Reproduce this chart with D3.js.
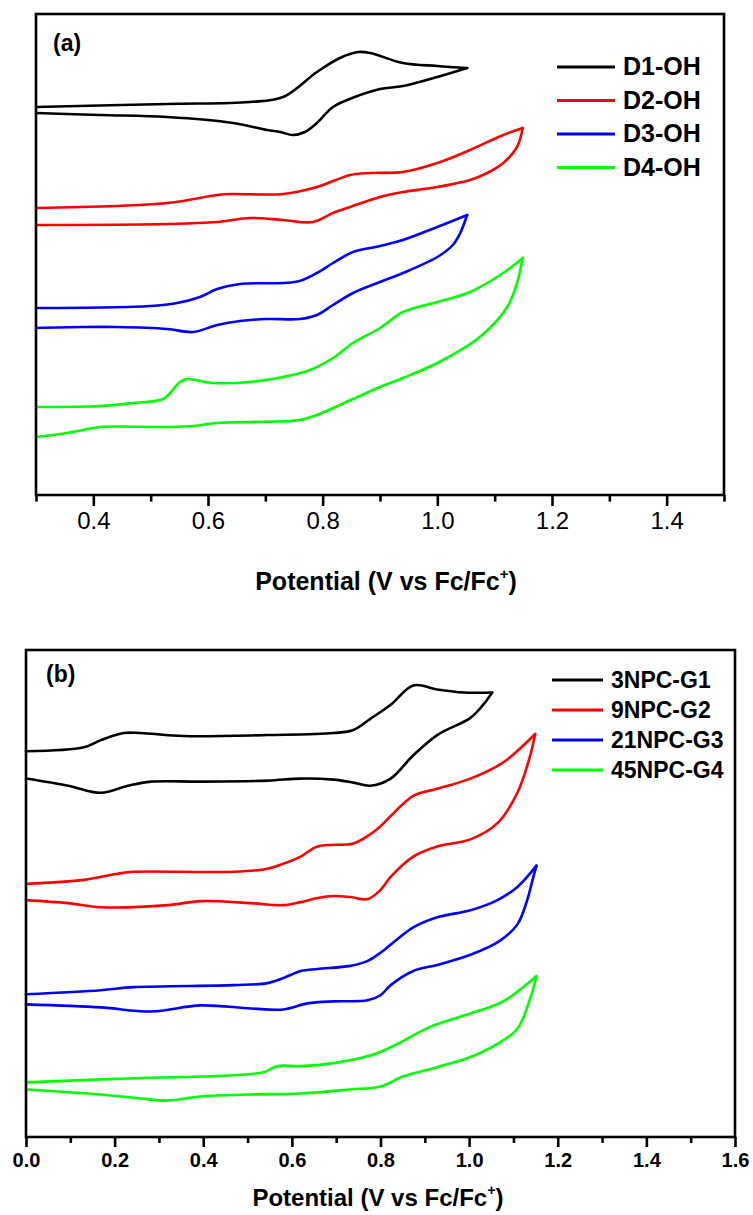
<!DOCTYPE html>
<html>
<head>
<meta charset="utf-8">
<script src="https://d3js.org/d3.v7.min.js"></script>
<style>
  body { margin: 0; background: #fff; }
  svg text { font-family: "Liberation Sans", Arial, sans-serif; fill: #000; }
</style>
</head>
<body>
<svg id="chart" width="753" height="1215"></svg>
<script>
// ---- panel (a): [potential V, current a.u.], forward scan then return scan
const d1OH = [[0.300,38.7],[0.530,39.0],[0.673,39.2],[0.731,39.7],[0.790,42.2],[0.830,43.6],[0.862,44.2],[0.883,44.1],[0.940,43.1],[1.000,42.8],[1.052,42.6],
  [1.000,41.7],[0.940,40.8],[0.900,40.5],[0.856,39.7],[0.818,38.7],[0.790,37.1],[0.769,36.2],[0.748,35.9],[0.726,36.2],[0.703,36.4],[0.644,37.1],[0.529,37.7],[0.412,37.9],[0.300,38.1]];
const d2OH = [[0.300,28.6],[0.529,29.1],[0.616,29.9],[0.644,30.0],[0.731,30.0],[0.790,30.7],[0.848,31.9],[0.883,32.1],[0.940,32.2],[1.000,33.1],[1.057,34.4],[1.115,35.9],[1.149,36.6],
  [1.139,34.7],[1.115,33.1],[1.087,32.1],[1.057,31.4],[1.000,30.7],[0.940,30.2],[0.900,29.7],[0.848,28.7],[0.818,28.1],[0.783,27.2],[0.731,27.4],[0.673,27.6],[0.616,27.2],[0.529,27.0],[0.300,26.9]];
const d3OH = [[0.300,18.6],[0.499,18.8],[0.546,19.1],[0.586,19.7],[0.616,20.5],[0.656,21.0],[0.731,21.1],[0.760,21.3],[0.790,22.1],[0.818,23.1],[0.853,24.2],[0.900,24.8],[0.940,25.4],[1.000,26.7],[1.052,27.9],
  [1.040,26.1],[1.027,24.9],[1.000,23.7],[0.940,22.1],[0.900,21.2],[0.853,20.1],[0.818,18.9],[0.790,17.9],[0.760,17.5],[0.703,17.5],[0.656,17.3],[0.616,16.9],[0.574,16.2],[0.529,16.5],[0.441,16.7],[0.382,16.7],[0.300,16.6]];
const d4OH = [[0.300,8.7],[0.412,8.8],[0.469,9.1],[0.522,9.5],[0.534,10.1],[0.551,11.2],[0.563,11.5],[0.609,11.1],[0.673,11.2],[0.731,11.7],[0.778,12.4],[0.818,13.6],[0.853,15.1],[0.900,16.6],[0.940,18.2],[1.000,19.2],[1.057,20.2],[1.115,22.1],[1.149,23.6],
  [1.139,21.1],[1.122,18.7],[1.074,15.7],[1.000,13.1],[0.940,11.6],[0.900,10.7],[0.853,9.5],[0.790,7.9],[0.760,7.4],[0.673,7.2],[0.616,7.1],[0.574,6.8],[0.529,6.7],[0.412,6.7],[0.382,6.4],[0.354,6.1],[0.300,5.7]];

// ---- panel (b)
const npc3G1 = [[0.000,38.0],[0.131,38.4],[0.169,39.1],[0.221,39.8],[0.259,39.8],[0.356,39.5],[0.545,39.6],[0.694,39.8],[0.739,40.1],[0.777,41.2],[0.823,42.6],[0.874,44.5],[0.928,44.1],[0.987,43.8],[1.052,43.8],
  [1.032,42.6],[1.003,41.3],[0.928,39.6],[0.874,37.6],[0.823,35.3],[0.777,34.6],[0.739,34.9],[0.694,35.2],[0.620,35.3],[0.545,35.1],[0.394,35.0],[0.282,35.0],[0.230,34.6],[0.169,33.9],[0.095,34.6],[0.000,35.3]];
const npc9G2 = [[0.000,24.9],[0.131,25.3],[0.207,25.9],[0.243,26.1],[0.469,26.1],[0.545,26.4],[0.581,26.9],[0.620,27.6],[0.658,28.6],[0.739,28.9],[0.777,29.8],[0.800,30.6],[0.823,31.6],[0.874,33.6],[0.928,34.3],[1.003,35.3],[1.077,36.9],[1.149,39.7],
  [1.138,37.6],[1.109,33.9],[1.064,30.9],[1.003,29.3],[0.928,28.6],[0.874,27.6],[0.823,25.6],[0.800,24.3],[0.771,23.4],[0.732,23.6],[0.694,23.7],[0.658,23.5],[0.620,23.1],[0.581,22.8],[0.507,23.0],[0.394,23.2],[0.320,22.8],[0.169,22.6],[0.095,23.0],[0.000,23.3]];
const npc21G3 = [[0.000,14.0],[0.169,14.4],[0.243,14.7],[0.469,14.9],[0.545,15.1],[0.581,15.6],[0.620,16.3],[0.658,16.5],[0.732,16.8],[0.771,17.3],[0.800,18.1],[0.823,18.9],[0.874,20.6],[0.928,21.6],[1.003,22.3],[1.064,23.3],[1.109,24.6],[1.152,26.7],
  [1.145,25.6],[1.131,23.3],[1.109,20.9],[1.070,19.3],[1.003,17.9],[0.928,16.9],[0.874,16.3],[0.823,14.9],[0.800,13.9],[0.771,13.4],[0.694,13.3],[0.635,13.1],[0.581,12.5],[0.507,12.6],[0.394,12.9],[0.282,12.3],[0.169,12.7],[0.000,13.0]];
const npc45G4 = [[0.000,5.3],[0.243,5.7],[0.469,6.0],[0.536,6.3],[0.568,6.9],[0.620,6.9],[0.694,7.2],[0.755,7.7],[0.800,8.3],[0.852,9.4],[0.913,10.8],[1.003,12.1],[1.077,13.3],[1.152,15.8],
  [1.138,13.6],[1.109,10.6],[1.064,9.1],[1.003,7.8],[0.928,6.8],[0.852,5.9],[0.800,4.9],[0.732,4.6],[0.620,4.2],[0.507,4.1],[0.394,3.9],[0.320,3.5],[0.259,3.7],[0.169,4.1],[0.000,4.6]];

const namesA = ["D1-OH", "D2-OH", "D3-OH", "D4-OH"];
const namesB = ["3NPC-G1", "9NPC-G2", "21NPC-G3", "45NPC-G4"];
const ticksA = [0.4, 0.6, 0.8, 1.0, 1.2, 1.4];
const minorA = [0.3, 0.5, 0.7, 0.9, 1.1, 1.3, 1.5];
const ticksB = [0.0, 0.2, 0.4, 0.6, 0.8, 1.0, 1.2, 1.4, 1.6];
const minorB = [0.1, 0.3, 0.5, 0.7, 0.9, 1.1, 1.3, 1.5];
const colors = ["#000000", "#ff0000", "#0000ff", "#00ff00"];

const svg = d3.select("#chart");

function drawPanel(p) {
  const x = d3.scaleLinear().domain(p.xDomain).range([p.left, p.right]);
  const y = d3.scaleLinear().domain([0, 48]).range([p.bottom - 1, p.top]);
  const g = svg.append("g");

  // curves: each CV loop drawn as forward + return branch, split at the switching potential
  const line = d3.line().x(d => x(d[0])).y(d => y(d[1])).curve(d3.curveCatmullRom.alpha(0.5));
  p.series.forEach((s, i) => {
    const iMax = d3.maxIndex(s, d => d[0]);
    const fwd = s.slice(0, iMax + 1);
    const rev = s.slice(iMax);
    [fwd, rev].forEach(part => {
      g.append("path").datum(part)
        .attr("fill", "none").attr("stroke", colors[i])
        .attr("stroke-width", 2.6).attr("stroke-linecap", "round")
        .attr("d", line);
    });
  });

  // frame
  g.append("rect")
    .attr("x", p.left).attr("y", p.top)
    .attr("width", p.right - p.left).attr("height", p.bottom - p.top)
    .attr("fill", "none").attr("stroke", "#000").attr("stroke-width", 2.6);

  // bottom axis, major + minor ticks
  const major = g.append("g").attr("transform", `translate(0,${p.bottom})`)
    .call(d3.axisBottom(x).tickValues(p.ticks).tickSize(p.tickLen).tickPadding(p.pad).tickFormat(d3.format(".1f")));
  major.select(".domain").remove();
  major.selectAll("line").attr("stroke-width", 2.6);
  major.selectAll("text")
    .style("font-size", p.tickFont + "px")
    .style("font-weight", p.tickBold ? "bold" : "normal");
  major.attr("font-family", null);

  const minor = g.append("g").attr("transform", `translate(0,${p.bottom})`)
    .call(d3.axisBottom(x).tickValues(p.minor).tickSize(p.tickLen * 0.6).tickFormat(""));
  minor.select(".domain").remove();
  minor.selectAll("line").attr("stroke-width", 2.6);

  // axis title
  const t = g.append("text")
    .attr("x", p.titleX).attr("y", p.titleY)
    .attr("text-anchor", "middle")
    .style("font-size", p.titleFont + "px").style("font-weight", "bold");
  t.append("tspan").text("Potential (V vs Fc/Fc");
  t.append("tspan").text("+").attr("dy", -p.titleFont * 0.45).style("font-size", (p.titleFont * 0.6) + "px");
  t.append("tspan").text(")").attr("dy", p.titleFont * 0.45);

  // panel label
  g.append("text").attr("x", p.labelX).attr("y", p.labelY)
    .style("font-size", "23px").style("font-weight", "bold").text(p.label);

  // legend
  p.names.forEach((n, i) => {
    const ly = p.legY + i * p.legStep;
    g.append("line")
      .attr("x1", p.legX).attr("x2", p.legX + p.legLen)
      .attr("y1", ly).attr("y2", ly)
      .attr("stroke", colors[i]).attr("stroke-width", 3);
    g.append("text")
      .attr("x", p.legX + p.legLen + 8).attr("y", ly + 8)
      .style("font-size", p.legFont + "px").style("font-weight", "bold")
      .text(n);
  });
}

drawPanel({
  series: [d1OH, d2OH, d3OH, d4OH], names: namesA,
  xDomain: [0.3, 1.5], ticks: ticksA, minor: minorA,
  left: 36, right: 724, top: 14, bottom: 495,
  tickLen: 11, pad: 6, tickFont: 24, tickBold: false,
  titleX: 386, titleY: 590, titleFont: 25,
  label: "(a)", labelX: 53, labelY: 51,
  legX: 557, legLen: 58, legY: 67, legStep: 33.5, legFont: 25
});

drawPanel({
  series: [npc3G1, npc9G2, npc21G3, npc45G4], names: namesB,
  xDomain: [0.0, 1.6], ticks: ticksB, minor: minorB,
  left: 26, right: 735, top: 650, bottom: 1137,
  tickLen: 10, pad: 6, tickFont: 20, tickBold: true,
  titleX: 378, titleY: 1206, titleFont: 24,
  label: "(b)", labelX: 46, labelY: 682,
  legX: 552, legLen: 51, legY: 680, legStep: 30, legFont: 23
});
</script>
</body>
</html>
